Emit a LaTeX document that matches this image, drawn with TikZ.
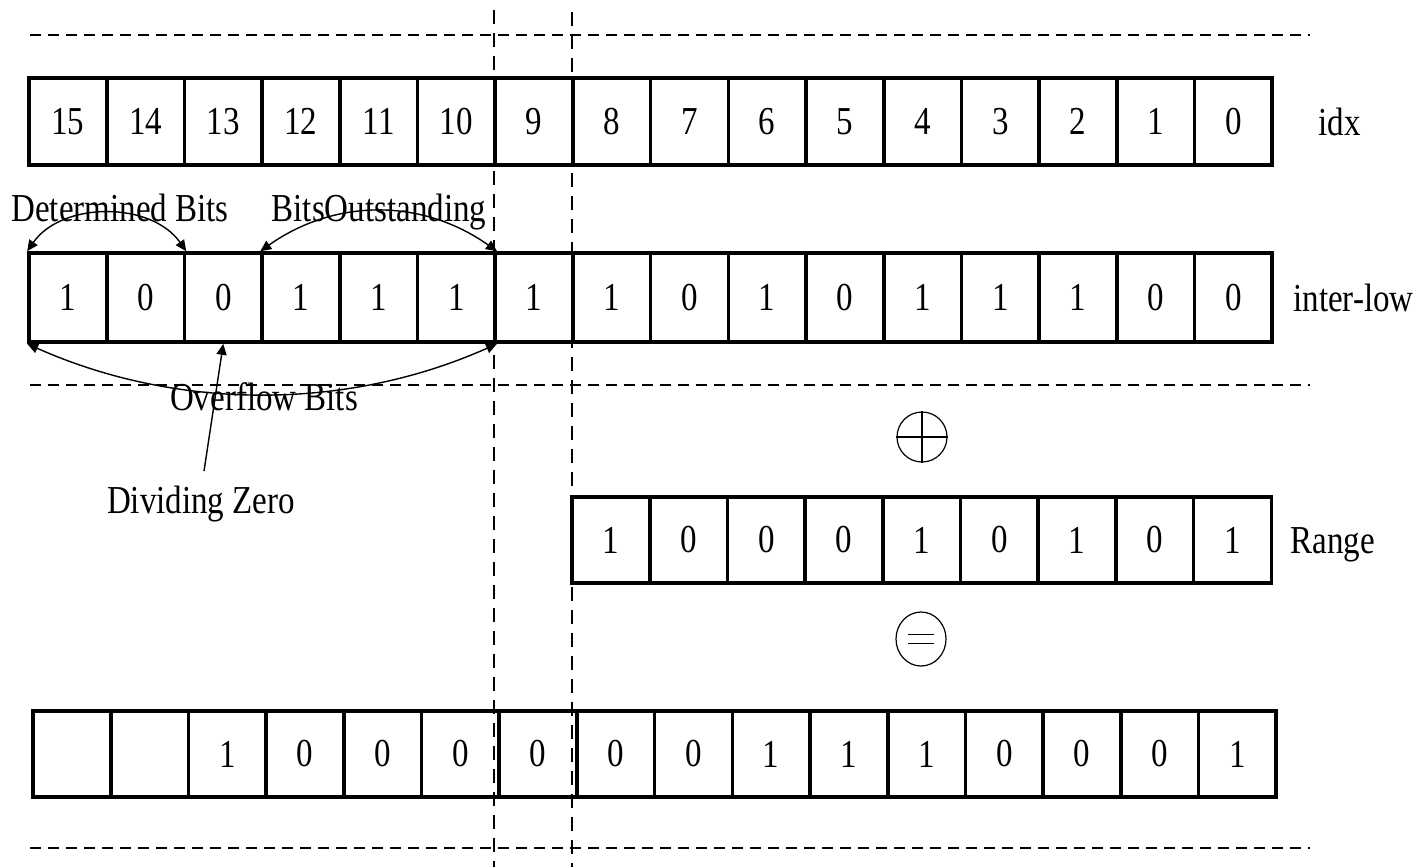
\documentclass[tikz,border=0pt]{standalone}
\usepackage{fontspec}
\setmainfont{Liberation Serif}
\usetikzlibrary{arrows.meta,shapes.geometric}
\newcommand\tx[1]{\scalebox{1}[1.2]{#1}}
\begin{document}
\begin{tikzpicture}[x=0.5pt,y=-0.5pt,
  cell/.style={draw,line width=1.8pt,rectangle,inner sep=0pt,minimum width=38.85pt,minimum height=43.5pt,font=\fontsize{16.5}{18}\selectfont},
  lbl/.style={inner sep=0pt,font=\fontsize{16.5}{18}\selectfont},
  hguide/.style={line width=0.75pt,dash pattern=on 5.5pt off 3.5pt},
  vguide/.style={line width=0.75pt,dash pattern=on 7pt off 4.5pt},
  tip/.style={line width=0.7pt,{Triangle[length=5.5pt,width=5pt]}-{Triangle[length=5.5pt,width=5pt]}},
  onetip/.style={line width=0.7pt,-{Triangle[length=5.5pt,width=5pt]}},
  opcirc/.style={draw,line width=0.6pt,inner sep=0pt}]
\useasboundingbox (0,0) rectangle (1416,867);
% guide lines
\draw[hguide] (30,35) -- (1310,35);
\draw[hguide] (30,385) -- (1310,385);
\draw[hguide] (30,848) -- (1310,848);
\draw[vguide] (494,10) -- (494,867);
\draw[vguide] (572,12) -- (572,867);
% row 1: idx
\foreach \v [count=\i from 0] in {15,14,...,0}
  \node[cell] (a\i) at ({29+(\i+0.5)*77.7},121.5) {\tx{\v}};
% row 2: inter-low
\foreach \v [count=\i from 1] in {1,0,0,1,1,1,1,1,0,1,0,1,1,1,0,0}
  \node[cell,minimum height=44.5pt] (b\i) at ({29+(\i-0.5)*77.7},297.5) {\tx{\v}};
% row 3: Range
\foreach \v [count=\i from 1] in {1,0,0,0,1,0,1,0,1}
  \node[cell,minimum height=43pt] (r\i) at ({572+(\i-0.5)*77.7},540) {\tx{\v}};
% row 4: result
\foreach \v [count=\i from 1] in {{},{},1,0,0,0,0,0,0,1,1,1,0,0,0,1}
  \node[cell,minimum height=43pt] (c\i) at ({33+(\i-0.5)*77.7},754) {\tx{\v}};
% row labels
\node[lbl,anchor=base west] (lidx) at (1318,135) {\tx{idx}};
\node[lbl,anchor=base west] (llow) at (1293,311) {\tx{inter-low}};
\node[lbl,anchor=base west] (lrange) at (1290,553) {\tx{Range}};
% operators
\node[opcirc,circle,minimum size=25pt] (plus) at (922,437) {};
\draw[line width=0.6pt] (plus.north) -- (plus.south) (plus.west) -- (plus.east);
\node[opcirc,ellipse,minimum width=25pt,minimum height=27pt] (eq) at (921,639) {};
\draw[line width=0.6pt] ([xshift=-6.5pt,yshift=2.2pt]eq.center) -- ([xshift=6.5pt,yshift=2.2pt]eq.center)
  ([xshift=-6.5pt,yshift=-2.2pt]eq.center) -- ([xshift=6.5pt,yshift=-2.2pt]eq.center);
% annotation arcs
\draw[tip] (b1.north west) .. controls +(35,-50) and +(-35,-50) .. (b2.north east);
\draw[tip] (b4.north west) .. controls +(75,-53) and +(-75,-53) .. (b6.north east);
\draw[tip] (b1.south west) .. controls +(150,67) and +(-150,67) .. (b6.south east);
% annotation labels
\node[lbl,anchor=base] (det) at (120,221) {\tx{Determined Bits}};
\node[lbl,anchor=base] (out) at (379,221) {\tx{BitsOutstanding}};
\node[lbl,anchor=base] (ovf) at (264,410) {\tx{Overflow Bits}};
\node[lbl,anchor=base] (dz) at (201,513) {\tx{Dividing Zero}};
\draw[onetip] ([xshift=1.5pt,yshift=7pt]dz.north) -- (b3.south);
\end{tikzpicture}
\end{document}
